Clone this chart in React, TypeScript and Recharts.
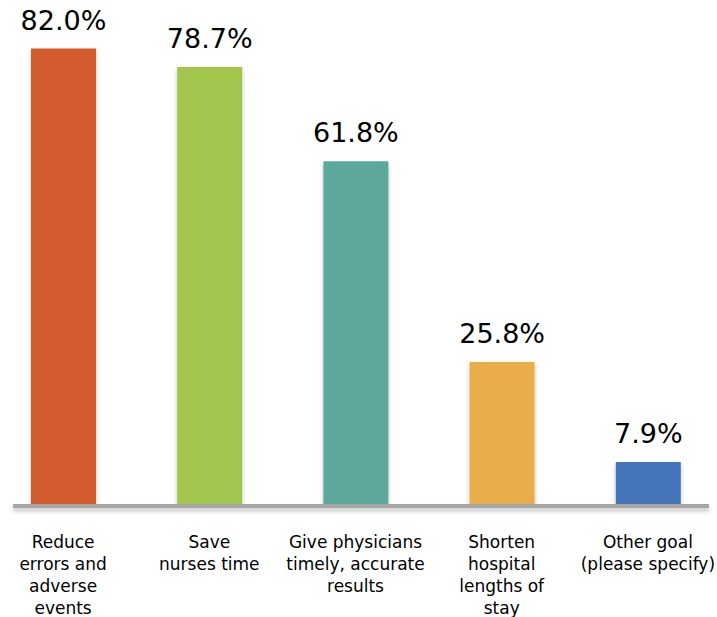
import React from "react";
import { BarChart, Bar, XAxis, YAxis, Cell, LabelList } from "recharts";

const categories = [
  "Reduce\nerrors and\nadverse\nevents",
  "Save\nnurses time",
  "Give physicians\ntimely, accurate\nresults",
  "Shorten\nhospital\nlengths of\nstay",
  "Other goal\n(please specify)",
];
const values = [82.0, 78.7, 61.8, 25.8, 7.9];
const colors = ["#D35B2F", "#A2C54E", "#5BA89D", "#E9AE48", "#4675B9"];

const data = categories.map((c, i) => ({ name: c, value: values[i] }));

const FONT = "'DejaVu Sans', Verdana, sans-serif";

const CategoryTick = (props: any) => {
  const { x, y, payload } = props;
  const lines = String(payload.value).split("\n");
  return (
    <text x={x} y={y + 42} textAnchor="middle" fontFamily={FONT} fontSize={17} fill="#000">
      {lines.map((l, i) => (
        <tspan key={i} x={x} dy={i === 0 ? 0 : 22}>
          {l}
        </tspan>
      ))}
    </text>
  );
};

export default function App() {
  return (
    <div style={{ position: "absolute", left: 0, top: 0 }}>
      <BarChart
        width={717}
        height={617}
        data={data}
        margin={{ top: 4, right: 8, bottom: 11, left: 13 }}
      >
        <defs>
          <filter id="shadow" x="-20%" y="-20%" width="140%" height="160%">
            <feDropShadow dx="0" dy="3" stdDeviation="2" floodColor="#000" floodOpacity="0.25" />
          </filter>
          <filter id="lineShadow" filterUnits="userSpaceOnUse" x="0" y="480" width="717" height="60">
            <feDropShadow dx="0" dy="3" stdDeviation="2" floodColor="#000" floodOpacity="0.25" />
          </filter>
        </defs>
        <XAxis
          dataKey="name"
          height={100}
          padding={{ left: -23, right: -12 }}
          axisLine={{ stroke: "#A6A6A6", strokeWidth: 4, filter: "url(#lineShadow)" }}
          tickLine={false}
          tickSize={0}
          tickMargin={0}
          interval={0}
          tick={<CategoryTick />}
        />
        <YAxis hide domain={[0, 90]} type="number" allowDataOverflow />
        <Bar dataKey="value" barSize={65} isAnimationActive={false} style={{ filter: "url(#shadow)" }}>
          {data.map((d, i) => (
            <Cell key={i} fill={colors[i]} />
          ))}
          <LabelList
            dataKey="value"
            position="top"
            offset={19}
            formatter={(v: any) => `${Number(v).toFixed(1)}%`}
            style={{ fontFamily: FONT, fontSize: 27, fill: "#000" }}
          />
        </Bar>
      </BarChart>
    </div>
  );
}
